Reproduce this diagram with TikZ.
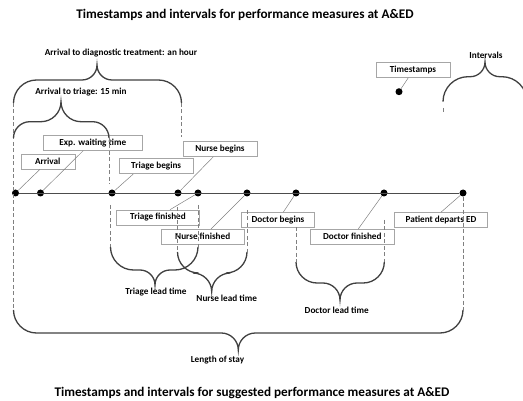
\documentclass[tikz,border=0pt]{standalone}
\usepackage{fontspec}
\setmainfont{Carlito}
\tikzset{
	stampbox/.style={draw=gray!70, line width=0.6pt, minimum height=15pt, inner sep=0pt, font=\bfseries\fontsize{9.2}{10}\selectfont},
	stampdot/.style={circle, fill=black, inner sep=0pt, minimum size=7pt},
	leader/.style={gray, line width=0.5pt},
	guide/.style={gray, line width=0.8pt, dash pattern=on 4pt off 2.5pt},
	bracecurve/.style={black!75, line width=1.3pt},
	lbl/.style={font=\bfseries\fontsize{9.2}{10}\selectfont},
	heading/.style={font=\bfseries\fontsize{13.2}{15}\selectfont}
}
% left x, right x, tip x, end y, line y, tip y
\newcommand{\curlybrace}[6]{%
	\pgfmathsetmacro{\brEnd}{#4-#5}
	\pgfmathsetmacro{\brTip}{#6-#5}
	\pgfmathsetmacro{\brW}{abs(\brEnd)}
	\pgfmathsetmacro{\brV}{abs(\brTip)}
	\draw[bracecurve] (#1,#4) .. controls (#1,#4-0.55*\brEnd) and (#1+0.45*\brW,#5) .. (#1+\brW,#5)
		-- (#3-\brV,#5) .. controls (#3-0.45*\brV,#5) and (#3,#5+0.45*\brTip) .. (#3,#6)
		.. controls (#3,#5+0.45*\brTip) and (#3+0.45*\brV,#5) .. (#3+\brV,#5)
		-- (#2-\brW,#5) .. controls (#2-0.45*\brW,#5) and (#2,#4-0.55*\brEnd) .. (#2,#4);
}
\begin{document}
\begin{tikzpicture}[x=1pt, y=-1pt]
	\useasboundingbox (0,0) rectangle (523,401);
	\node[heading] (title) at (245,15) {Timestamps and intervals for performance measures at A\&ED};
	\node[heading] (caption) at (252,393) {Timestamps and intervals for suggested performance measures at A\&ED};

	% timestamps on the line
	\foreach \n/\x in {arr/15.5, wait/40.5, tbeg/112, nbeg/178, tfin/198, nfin/247, dbeg/296, dfin/384, dep/463}
		\node[stampdot] (\n) at (\x,193) {};
	\draw[black!70, line width=0.8pt] (arr) -- (dep);

	% labels above
	\node[stampbox, minimum width=54pt] (arrbox) at (47.8,161.7) {Arrival};
	\node[stampbox, minimum width=99pt] (waitbox) at (92.8,142.8) {Exp. waiting time};
	\node[stampbox, minimum width=74pt] (tbegbox) at (156.2,166.3) {Triage begins};
	\node[stampbox, minimum width=74pt] (nbegbox) at (220,149) {Nurse begins};
	% labels below
	\node[stampbox, minimum width=82.6pt] (tfinbox) at (158,217.5) {Triage finished};
	\node[stampbox, minimum width=83.3pt] (nfinbox) at (202.7,236.7) {Nurse finished};
	\node[stampbox, minimum width=72.6pt] (dbegbox) at (278,220) {Doctor begins};
	\node[stampbox, minimum width=84pt] (dfinbox) at (352.3,236.7) {Doctor finished};
	\node[stampbox, minimum width=93.4pt] (depbox) at (441,220) {Patient departs ED};

	\draw[leader] (arr) -- ([xshift=-8pt]arrbox.south);
	\draw[leader] (wait) -- ([xshift=-9.5pt]waitbox.south);
	\draw[leader] (tbeg) -- ([xshift=-23pt]tbegbox.south);
	\draw[leader] (nbeg) -- ([xshift=-6.7pt]nbegbox.south);
	\draw[leader] (tfin) -- ([xshift=12pt]tfinbox.north);
	\draw[leader] (nfin) -- ([xshift=8.3pt]nfinbox.north);
	\draw[leader] (dbeg) -- ([xshift=5.3pt]dbegbox.north);
	\draw[leader] (dfin) -- ([xshift=6pt]dfinbox.north);
	\draw[leader] (dep) -- (depbox.north);

	% interval guides
	\draw[guide] (13.5,103) -- (13.5,310);
	\draw[guide] (109,138) -- (109,184);
	\draw[guide] (181.5,103) -- (181.5,137);
	\draw[guide] (110.5,205) -- (110.5,247);
	\draw[guide] (198,205) -- (198,247);
	\draw[guide] (177.5,207) -- (177.5,252);
	\draw[guide] (247,210) -- (247,252);
	\draw[guide] (296,227) -- (296,262);
	\draw[guide] (384.3,220) -- (384.3,262);
	\draw[guide] (dep) -- (463,310);

	% intervals
	\curlybrace{13.5}{181.5}{97}{103}{80}{65}
	\node[lbl] (diag) at (121,53) {Arrival to diagnostic treatment: an hour};
	\curlybrace{13.5}{109}{61}{138}{121.7}{101.7}
	\node[lbl] (triage) at (81,91.7) {Arrival to triage: 15 min};
	\curlybrace{110.5}{198}{155}{247}{270}{285}
	\node[lbl] (tlead) at (156,291.7) {Triage lead time};
	\curlybrace{177.5}{247}{211.7}{252}{273}{291.7}
	\node[lbl] (nlead) at (226.7,298.3) {Nurse lead time};
	\curlybrace{296}{384.3}{340}{262}{283}{300}
	\node[lbl] (dlead) at (336.7,310) {Doctor lead time};
	\curlybrace{13.5}{463}{238.3}{310}{333}{350}
	\node[lbl] (stay) at (217.5,360) {Length of stay};

	% legend
	\node[stampdot] (keydot) at (399,91.7) {};
	\node[stampbox, minimum width=74pt] (keybox) at (413,70) {Timestamps};
	\draw[leader] (keydot) -- ([xshift=-4.7pt]keybox.south);
	\curlybrace{443}{527}{485}{101.7}{76.7}{62}
	\node[lbl] (keyint) at (486,55) {Intervals};
	\draw[guide] (443,108) -- (443,114);
\end{tikzpicture}
\end{document}
